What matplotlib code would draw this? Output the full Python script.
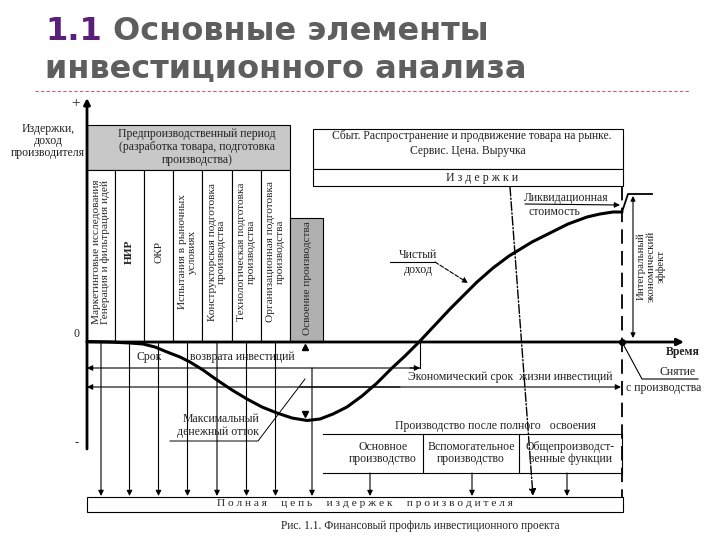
import matplotlib.pyplot as plt
from matplotlib.patches import Rectangle

SERIF = "Liberation Serif"
INK = "#222222"

# profile of the project: time (px) vs net cash flow (px)
curve_x = [87, 110, 130, 143, 155, 167, 180, 190, 203, 217, 232, 247, 262, 277, 292,
           307, 320, 333, 347, 362, 377, 392, 405, 420, 435, 450, 465, 477, 493, 509,
           532, 550, 568, 587, 600, 613, 622]
curve_y = [341.5, 342, 343, 344, 347, 352, 357, 362, 370, 380, 390, 399, 407, 413, 418,
           420.5, 419, 414, 407, 396, 383, 368, 356, 341, 325, 309, 294, 282, 268, 256,
           242, 233, 224, 217, 214, 212, 212]
liq_x = [622, 628, 652]
liq_y = [212, 194, 194]

col_edges = [87, 115, 144, 173, 202, 232, 261, 290]
col_labels = ["Маркетинговые исследования\nГенерация и фильтрация идей",
              "НИР", "ОКР",
              "Испытания в рыночных\nусловиях",
              "Конструкторская подготовка\nпроизводства",
              "Технологическая подготовка\nпроизводства",
              "Организационная подготовка\nпроизводства"]

prod_edges = [323, 423, 519, 622]
prod_labels = ["Основное\nпроизводство", "Вспомогательное\nпроизводство",
               "Общепроизводст-\nвенные функции"]
prod_arrow_x = [370, 472, 567]


def arrow(ax, x0, y0, x1, y1, lw=0.8, ms=8, style='-|>', ls='-'):
    ax.annotate('', xy=(x1, y1), xytext=(x0, y0),
                arrowprops=dict(arrowstyle=style, lw=lw, color='k', linestyle=ls,
                                mutation_scale=ms, shrinkA=0, shrinkB=0))


def txt(ax, x, y, s, size=8.5, **kw):
    kw.setdefault('ha', 'center')
    kw.setdefault('va', 'center')
    ax.text(x, y, s, fontsize=size, family=SERIF, color=INK, **kw)


fig = plt.figure(figsize=(7.2, 5.4), dpi=100)
ax = fig.add_axes([0, 0, 1, 1])
ax.set_xlim(0, 720)
ax.set_ylim(540, 0)
ax.axis('off')

# title
ax.text(45, 31, "1.1", fontsize=23, fontweight='bold', family="DejaVu Sans",
        color="#5a1f7a", va='center')
ax.text(113, 31, "Основные элементы", fontsize=23, fontweight='bold',
        family="DejaVu Sans", color="#5e5e5e", va='center')
ax.text(45, 69, "инвестиционного анализа", fontsize=23, fontweight='bold',
        family="DejaVu Sans", color="#5e5e5e", va='center')
ax.plot([35, 690], [91, 91], color="#c8607a", lw=0.8, dashes=(3, 2))

# axes of the diagram
arrow(ax, 87, 449, 87, 98, lw=2, ms=9)
arrow(ax, 87, 342, 684, 342, lw=2, ms=10)
txt(ax, 76, 104, "+", size=11)
txt(ax, 76, 334, "0", size=8.5)
txt(ax, 77, 443, "-", size=9)
txt(ax, 683, 352, "Время", size=8.5, fontweight='bold')
txt(ax, 48, 141, "Издержки,\nдоход\nпроизводителя", size=8.5, linespacing=0.95)

# pre-production period
ax.add_patch(Rectangle((87, 125), 203, 45, fc="#c8c8c8", ec='k', lw=0.8))
txt(ax, 197, 147, "Предпроизводственный период\n(разработка товара, подготовка\nпроизводства)",
    size=8.5, linespacing=1.1)
for i, lab in enumerate(col_labels):
    x0, x1 = col_edges[i], col_edges[i + 1]
    ax.add_patch(Rectangle((x0, 170), x1 - x0, 172, fc='white', ec='k', lw=0.8))
    txt(ax, (x0 + x1) / 2, 252, lab, size=8.2, rotation=90, linespacing=1.05,
        fontweight='bold' if lab == "НИР" else 'normal')
ax.add_patch(Rectangle((290, 218), 33, 124, fc="#b0b0b0", ec='k', lw=0.8))
txt(ax, 307, 278, "Освоение производства", size=8.2, rotation=90)

# sales box
ax.add_patch(Rectangle((313, 129), 310, 40, fc='white', ec='k', lw=0.8))
ax.add_patch(Rectangle((313, 169), 310, 17, fc='white', ec='k', lw=0.8))
txt(ax, 472, 136, "Сбыт. Распространение и продвижение товара на рынке.", size=8.4)
txt(ax, 468, 151, "Сервис. Цена. Выручка", size=8.4)
txt(ax, 482, 178, "И з д е р ж к и", size=8.6)

# end of life
ax.plot([622, 622], [186, 497], color='k', lw=1.3, dashes=(8, 4))
ax.plot(curve_x, curve_y, color='k', lw=2.2, solid_capstyle='round')
ax.plot(liq_x, liq_y, color='k', lw=1.3)
txt(ax, 566, 198, "Ликвидационная", size=8.5)
txt(ax, 554, 212, "стоимость", size=8.5)
arrow(ax, 525, 204, 620, 205)
arrow(ax, 633, 196, 633, 338, ms=7, style='<|-|>')
txt(ax, 651, 266, "Интегральный\nэкономический\nэффект", size=7.8, rotation=90,
    linespacing=1.05)
ax.plot([622], [342], 'o', color='k', ms=4)
ax.plot([622, 642, 698], [342, 379, 379], color='k', lw=0.8)
txt(ax, 678, 372, "Снятие", size=8.5)
txt(ax, 664, 388, "с производства", size=8.5)

# net income
ax.plot([390, 435], [262, 262], color='k', lw=0.8)
arrow(ax, 435, 262, 468, 283, ls='--')
txt(ax, 418, 255, "Чистый", size=8.5)
txt(ax, 418, 270, "доход", size=8.5)

# payback and economic life
ax.plot([420, 420], [342, 368], color='k', lw=0.8)
arrow(ax, 420, 368, 87, 368)
arrow(ax, 410, 368, 420, 368)
txt(ax, 149, 357, "Срок", size=8.5)
txt(ax, 242, 357, "возврата инвестиций", size=8.5)
arrow(ax, 400, 387, 87, 387)
arrow(ax, 300, 387, 621, 387)
txt(ax, 510, 377, "Экономический срок  жизни инвестиций", size=8.5)

# cost flows down to the producer cost chain
for i in range(len(col_labels)):
    xc = (col_edges[i] + col_edges[i + 1]) / 2
    arrow(ax, xc, 343, xc, 496)
arrow(ax, 312, 368, 312, 496)
ax.plot([305], [347], marker='^', color='k', ms=4.5)
ax.plot([305], [414], marker='v', color='k', ms=4.5)
arrow(ax, 510, 187, 533, 496, lw=1, ls='-.', ms=10)

# max outflow
ax.plot([170, 258, 305], [441, 441, 379], color='k', lw=0.7)
txt(ax, 221, 419, "Максимальный", size=8.5)
txt(ax, 218, 432, "денежный отток", size=8.5)

# full production
txt(ax, 495, 426, "Производство после полного   освоения", size=8.5)
ax.plot([323, 622], [434, 434], color='k', lw=0.8)
ax.plot([323, 622], [473, 473], color='k', lw=0.8)
for xe in prod_edges[1:]:
    ax.plot([xe, xe], [434, 473], color='k', lw=0.8)
for i, lab in enumerate(prod_labels):
    txt(ax, (prod_edges[i] + prod_edges[i + 1]) / 2 + (10 if i == 0 else 0), 453, lab,
        size=8.5, linespacing=1.1)
for xa in prod_arrow_x:
    arrow(ax, xa, 473, xa, 496)

ax.add_patch(Rectangle((87, 497), 536, 15, fc='white', ec='k', lw=0.8))
txt(ax, 365, 504, "П о л н а я     ц е п ь     и з д е р ж е к     п р о и з в о д и т е л я",
    size=8.2)
txt(ax, 420, 526, "Рис. 1.1. Финансовый профиль инвестиционного проекта", size=8.3)

fig.savefig("out.png", dpi=100)
